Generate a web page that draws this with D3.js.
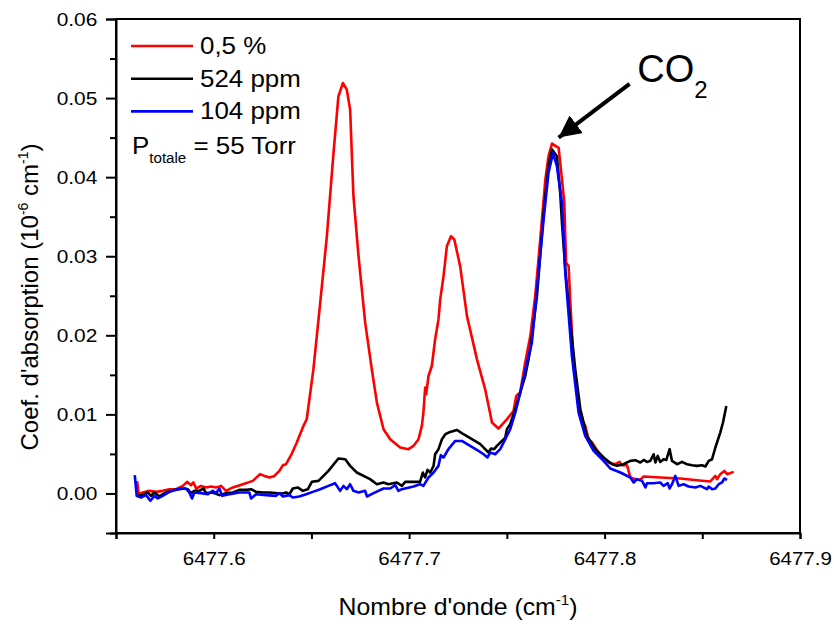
<!DOCTYPE html>
<html>
<head>
<meta charset="utf-8">
<script src="https://cdn.jsdelivr.net/npm/d3@7"></script>
<style>
  body { margin: 0; background: #fff; }
  text { font-family: "Liberation Sans", Arial, sans-serif; fill: #000; }
</style>
</head>
<body>
<div id="main"></div>
<script>
// spectra (wavenumber in cm-1, absorption coefficient)
const wnRed = [6477.5608, 6477.5616, 6477.5637, 6477.5670, 6477.5705, 6477.5739, 6477.5773, 6477.5807, 6477.5842, 6477.5864,
  6477.5884, 6477.5896, 6477.5910, 6477.5935, 6477.5961, 6477.5986, 6477.6012, 6477.6038, 6477.6063, 6477.6098,
  6477.6149, 6477.6200, 6477.6237, 6477.6259, 6477.6285, 6477.6311, 6477.6336, 6477.6354, 6477.6370, 6477.6396,
  6477.6425, 6477.6459, 6477.6476, 6477.6510, 6477.6545, 6477.6579, 6477.6613, 6477.6638, 6477.6661, 6477.6681,
  6477.6698, 6477.6715, 6477.6741, 6477.6775, 6477.6809, 6477.6835, 6477.6869, 6477.6903, 6477.6954, 6477.6997,
  6477.7022, 6477.7048, 6477.7065, 6477.7073, 6477.7082, 6477.7087, 6477.7099, 6477.7116, 6477.7133, 6477.7150,
  6477.7159, 6477.7176, 6477.7193, 6477.7214, 6477.7231, 6477.7261, 6477.7296, 6477.7347, 6477.7389, 6477.7424,
  6477.7457, 6477.7500, 6477.7534, 6477.7548, 6477.7568, 6477.7594, 6477.7620, 6477.7645, 6477.7671, 6477.7697,
  6477.7713, 6477.7731, 6477.7765, 6477.7782, 6477.7794, 6477.7803, 6477.7816, 6477.7825, 6477.7841, 6477.7876,
  6477.7901, 6477.7918, 6477.7936, 6477.7978, 6477.8021, 6477.8055, 6477.8077, 6477.8089, 6477.8115, 6477.8132,
  6477.8157, 6477.8183, 6477.8200, 6477.8285, 6477.8388, 6477.8473, 6477.8541, 6477.8567, 6477.8576, 6477.8592,
  6477.8613, 6477.8627, 6477.8661];
const absRed = [0.00155, -0.0001, 0.00013, 0.00033, 0.0002, 0.00033, 0.00054, 0.00054, 0.00096, 0.00147,
  0.00105, 0.00139, 0.00063, 0.00096, 0.00076, 0.00088, 0.00076, 0.00096, 0.00033, 0.00076,
  0.00117, 0.00159, 0.00244, 0.00222, 0.00202, 0.00222, 0.00285, 0.00357, 0.0037, 0.00484,
  0.00644, 0.00854, 0.00938, 0.0157, 0.02412, 0.03253, 0.04307, 0.05022, 0.05191, 0.05106,
  0.04854, 0.03759, 0.03001, 0.0216, 0.0157, 0.01149, 0.00812, 0.00686, 0.00581, 0.0056,
  0.00601, 0.00686, 0.00854, 0.01023, 0.01339, 0.01254, 0.01485, 0.01612, 0.01949, 0.02201,
  0.02454, 0.02748, 0.03127, 0.03253, 0.03212, 0.02875, 0.02243, 0.01696, 0.01317, 0.00897,
  0.00821, 0.00938, 0.01043, 0.01233, 0.01276, 0.01655, 0.0199, 0.02496, 0.03212, 0.0397,
  0.04264, 0.04424, 0.0437, 0.0397, 0.03675, 0.02918, 0.02875, 0.02412, 0.01655, 0.0098,
  0.00854, 0.00686, 0.00644, 0.00484, 0.00392, 0.0037, 0.00399, 0.00357, 0.00357, 0.00202,
  0.00181, 0.00172, 0.00215, 0.00202, 0.00189, 0.00168, 0.00152, 0.00222, 0.00181, 0.00244,
  0.00285, 0.00244, 0.00273];

const wnBlack = [6477.5606, 6477.5637, 6477.5662, 6477.5679, 6477.5696, 6477.5722, 6477.5756, 6477.5799, 6477.5842, 6477.5867,
  6477.5884, 6477.5901, 6477.5927, 6477.5947, 6477.5961, 6477.5995, 6477.6029, 6477.6063, 6477.6098, 6477.6131,
  6477.6166, 6477.6191, 6477.6217, 6477.6251, 6477.6285, 6477.6319, 6477.6354, 6477.6370, 6477.6387, 6477.6405,
  6477.6430, 6477.6456, 6477.6482, 6477.6502, 6477.6536, 6477.6587, 6477.6638, 6477.6673, 6477.6698, 6477.6732,
  6477.6800, 6477.6835, 6477.6869, 6477.6894, 6477.6937, 6477.6963, 6477.6980, 6477.7056, 6477.7070, 6477.7082,
  6477.7094, 6477.7108, 6477.7125, 6477.7133, 6477.7150, 6477.7168, 6477.7185, 6477.7210, 6477.7244, 6477.7278,
  6477.7321, 6477.7364, 6477.7389, 6477.7406, 6477.7419, 6477.7435, 6477.7449, 6477.7466, 6477.7492, 6477.7500,
  6477.7517, 6477.7543, 6477.7568, 6477.7594, 6477.7611, 6477.7620, 6477.7654, 6477.7688, 6477.7713, 6477.7731,
  6477.7756, 6477.7773, 6477.7782, 6477.7799, 6477.7825, 6477.7850, 6477.7876, 6477.7910, 6477.7953, 6477.7995,
  6477.8038, 6477.8064, 6477.8097, 6477.8132, 6477.8157, 6477.8183, 6477.8200, 6477.8217, 6477.8234, 6477.8251,
  6477.8260, 6477.8272, 6477.8285, 6477.8302, 6477.8316, 6477.8333, 6477.8345, 6477.8371, 6477.8396, 6477.8422,
  6477.8448, 6477.8473, 6477.8499, 6477.8516, 6477.8533, 6477.8550, 6477.8567, 6477.8592, 6477.8606, 6477.8623];
const absBlack = [-0.0003, -0.00021, 0.00013, -0.0003, 0.00013, -0.00038, 0.00013, 0.00045, 0.00063, 0.00054,
  0.00004, 0.00033, 0.00033, 0.00063, 0.00004, 0.00013, -0.00021, 0.00004, 0.00013, 0.00045,
  0.00045, 0.00054, 0.0002, 0.00013, 0.00013, 0.00004, 0, 0.00013, -0.0001, 0.00063,
  0.00076, 0.00033, 0.00054, 0.00147, 0.00159, 0.00285, 0.00442, 0.00433, 0.00349, 0.00265,
  0.00181, 0.00117, 0.00139, 0.00117, 0.00139, 0.00096, 0.00147, 0.00147, 0.00265, 0.00202,
  0.00298, 0.00265, 0.00349, 0.00496, 0.0056, 0.00686, 0.00749, 0.00778, 0.00803, 0.00749,
  0.00686, 0.00623, 0.0056, 0.00518, 0.00568, 0.0056, 0.00601, 0.00644, 0.00707, 0.00812,
  0.00875, 0.01065, 0.01276, 0.01485, 0.01696, 0.01822, 0.02496, 0.03549, 0.04138, 0.04349,
  0.04264, 0.03802, 0.03423, 0.02833, 0.0216, 0.0157, 0.01065, 0.00727, 0.0056, 0.00455,
  0.0037, 0.00349, 0.0037, 0.00412, 0.00421, 0.00392, 0.00424, 0.00399, 0.00412, 0.00496,
  0.00392, 0.00475, 0.00399, 0.00433, 0.00424, 0.0056, 0.00412, 0.0037, 0.00399, 0.0037,
  0.00357, 0.00349, 0.00357, 0.00341, 0.00412, 0.00433, 0.00581, 0.0077, 0.00897, 0.01106];

const wnBlue = [6477.5596, 6477.5606, 6477.5628, 6477.5654, 6477.5676, 6477.5696, 6477.5714, 6477.5739, 6477.5773, 6477.5816,
  6477.5858, 6477.5875, 6477.5889, 6477.5901, 6477.5935, 6477.5970, 6477.5995, 6477.6012, 6477.6029, 6477.6043,
  6477.6080, 6477.6131, 6477.6182, 6477.6191, 6477.6217, 6477.6268, 6477.6319, 6477.6336, 6477.6354, 6477.6387,
  6477.6405, 6477.6438, 6477.6473, 6477.6507, 6477.6545, 6477.6587, 6477.6621, 6477.6647, 6477.6664, 6477.6681,
  6477.6698, 6477.6715, 6477.6741, 6477.6775, 6477.6784, 6477.6826, 6477.6869, 6477.6903, 6477.6929, 6477.6945,
  6477.6963, 6477.7022, 6477.7056, 6477.7073, 6477.7099, 6477.7125, 6477.7150, 6477.7162, 6477.7176, 6477.7201,
  6477.7236, 6477.7270, 6477.7312, 6477.7355, 6477.7381, 6477.7401, 6477.7415, 6477.7440, 6477.7466, 6477.7492,
  6477.7517, 6477.7543, 6477.7568, 6477.7603, 6477.7628, 6477.7654, 6477.7688, 6477.7713, 6477.7736, 6477.7756,
  6477.7782, 6477.7799, 6477.7833, 6477.7867, 6477.7901, 6477.7944, 6477.7987, 6477.8029, 6477.8081, 6477.8132,
  6477.8149, 6477.8166, 6477.8192, 6477.8209, 6477.8217, 6477.8251, 6477.8285, 6477.8302, 6477.8323, 6477.8333,
  6477.8345, 6477.8362, 6477.8379, 6477.8405, 6477.8430, 6477.8465, 6477.8490, 6477.8524, 6477.8533, 6477.8550,
  6477.8567, 6477.8584, 6477.8601, 6477.8613, 6477.8627];
const absBlue = [0.00231, -0.0003, -0.00051, -0.00021, -0.00093, -0.0003, -0.00063, -0.0003, 0.0002, 0.00054,
  0.00063, 0.00013, -0.00063, 0.00013, 0.00004, -0.0001, 0.00033, 0.00004, 0.00063, -0.0003,
  -0.0001, 0.00013, 0.00013, -0.00063, -0.0001, -0.00021, -0.0003, 0.00004, -0.00038, -0.00021,
  -0.00051, -0.00038, -0.0001, 0.0002, 0.00054, 0.00096, 0.0013, 0.00033, 0.00096, 0.00054,
  0.00117, 0.00033, 0.00013, 0.00033, -0.00038, 0.00013, 0.00063, 0.00063, 0.00105, 0.00033,
  0.00054, 0.00088, 0.00117, 0.00096, 0.00202, 0.00265, 0.00349, 0.00484, 0.00455, 0.0056,
  0.00664, 0.00664, 0.00601, 0.00538, 0.00496, 0.00455, 0.00518, 0.00496, 0.0056, 0.00686,
  0.00812, 0.01023, 0.01267, 0.01655, 0.01907, 0.0258, 0.03464, 0.04054, 0.04307, 0.04138,
  0.03675, 0.02791, 0.01738, 0.01023, 0.00727, 0.00538, 0.00433, 0.00316, 0.00265, 0.00202,
  0.00139, 0.00181, 0.00159, 0.00076, 0.0013, 0.0013, 0.00139, 0.00096, 0.0013, 0.00063,
  0.00117, 0.00222, 0.00096, 0.00117, 0.00088, 0.00076, 0.00096, 0.00054, 0.00088, 0.00054,
  0.00063, 0.00117, 0.00139, 0.00189, 0.00172];

const seriesNames = ['0,5 %', '524 ppm', '104 ppm'];
const seriesColors = ['#ff0000', '#000000', '#0000ff'];

const xTicks = [6477.6, 6477.7, 6477.8, 6477.9];
const xMinor = [6477.55, 6477.65, 6477.75, 6477.85];
const yTicks = [0, 0.01, 0.02, 0.03, 0.04, 0.05, 0.06];
const yMinor = [-0.005, 0.005, 0.015, 0.025, 0.035, 0.045, 0.055];

// annotation: arrow tail / tip and label anchor, in data units
const arrowFrom = [6477.8128, 0.0518];
const arrowTo = [6477.7765, 0.0450];
const co2At = [6477.8167, 0.0520];

// layout
const svgWidth = 834, svgHeight = 625;
const margin = { left: 116, top: 19, right: 34, bottom: 92 };
const plotRight = svgWidth - margin.right;
const plotBottom = svgHeight - margin.bottom;

const svg = d3.select('#main')
  .append('svg')
  .attr('width', svgWidth)
  .attr('height', svgHeight);

const xScale = d3.scaleLinear().domain([6477.55, 6477.9]).range([margin.left, plotRight]);
const yScale = d3.scaleLinear().domain([-0.005, 0.06]).range([plotBottom, margin.top]);

// frame
svg.append('rect')
  .attr('x', margin.left).attr('y', margin.top)
  .attr('width', plotRight - margin.left).attr('height', plotBottom - margin.top)
  .attr('fill', 'none').attr('stroke', '#000').attr('stroke-width', 2);

// axes
const xAxis = svg.append('g')
  .attr('transform', `translate(0, ${plotBottom})`)
  .call(d3.axisBottom(xScale).tickValues(xTicks).tickSize(6).tickPadding(13).tickFormat(d3.format('.1f')));
svg.append('g')
  .attr('transform', `translate(0, ${plotBottom})`)
  .call(d3.axisBottom(xScale).tickValues(xMinor).tickSize(6).tickFormat(''))
  .call(g => g.select('.domain').remove());

const yAxis = svg.append('g')
  .attr('transform', `translate(${margin.left}, 0)`)
  .call(d3.axisLeft(yScale).tickValues(yTicks).tickSize(10).tickPadding(7).tickFormat(d3.format('.2f')));
svg.append('g')
  .attr('transform', `translate(${margin.left}, 0)`)
  .call(d3.axisLeft(yScale).tickValues(yMinor).tickSize(6).tickFormat(''))
  .call(g => g.select('.domain').remove());

svg.selectAll('.domain').attr('stroke-width', 2);
svg.selectAll('.tick line').attr('stroke-width', 2);
svg.selectAll('.tick text')
  .attr('font-family', '"Liberation Sans", Arial, sans-serif')
  .attr('font-size', 19)
  .attr('fill', '#000');
xAxis.selectAll('.tick text').attr('transform', 'scale(1.08,1)');
yAxis.selectAll('.tick text').attr('transform', 'scale(1.1,1)');

// curves
const series = [
  d3.zip(wnRed, absRed),
  d3.zip(wnBlack, absBlack),
  d3.zip(wnBlue, absBlue)
];
const line = d3.line()
  .x(d => xScale(d[0]))
  .y(d => yScale(d[1]));

svg.append('g')
  .selectAll('path')
  .data(series)
  .enter()
  .append('path')
  .attr('fill', 'none')
  .attr('stroke', (d, i) => seriesColors[i])
  .attr('stroke-width', 2.6)
  .attr('stroke-linejoin', 'round')
  .attr('d', line);

// legend
const legend = svg.append('g');
seriesNames.forEach((name, i) => {
  const ly = 46 + i * 32.7;
  legend.append('line')
    .attr('x1', 131).attr('x2', 193)
    .attr('y1', ly).attr('y2', ly)
    .attr('stroke', seriesColors[i]).attr('stroke-width', 2.6);
  legend.append('text')
    .attr('transform', `translate(200, ${ly + 8}) scale(1.08,1)`)
    .attr('font-size', 24)
    .text(name);
});
const ptot = legend.append('text')
  .attr('transform', 'translate(132, 154) scale(1.08,1)')
  .attr('font-size', 24);
ptot.append('tspan').text('P');
ptot.append('tspan').attr('font-size', 14).attr('dy', 9).text('totale');
ptot.append('tspan').attr('dy', -9).text(' = 55 Torr');

// CO2 annotation
svg.append('defs').append('marker')
  .attr('id', 'arrowhead')
  .attr('markerUnits', 'userSpaceOnUse')
  .attr('markerWidth', 24).attr('markerHeight', 24)
  .attr('refX', 22).attr('refY', 11)
  .attr('orient', 'auto')
  .append('path')
  .attr('d', 'M0,0 L22,11 L0,22 Z')
  .attr('fill', '#000');

svg.append('line')
  .attr('x1', xScale(arrowFrom[0])).attr('y1', yScale(arrowFrom[1]))
  .attr('x2', xScale(arrowTo[0])).attr('y2', yScale(arrowTo[1]))
  .attr('stroke', '#000').attr('stroke-width', 4)
  .attr('marker-end', 'url(#arrowhead)');

const co2 = svg.append('text')
  .attr('x', xScale(co2At[0])).attr('y', yScale(co2At[1]))
  .attr('font-size', 38);
co2.append('tspan').text('CO');
co2.append('tspan').attr('font-size', 24).attr('dy', 16).text('2');

// axis titles
const xTitle = svg.append('text')
  .attr('transform', `translate(${(margin.left + plotRight) / 2}, 615) scale(1.08,1)`)
  .attr('text-anchor', 'middle')
  .attr('font-size', 23);
xTitle.append('tspan').text("Nombre d'onde (cm");
xTitle.append('tspan').attr('font-size', 14).attr('dy', -10).text('-1');
xTitle.append('tspan').attr('dy', 10).text(')');

const yTitle = svg.append('text')
  .attr('transform', 'translate(38, 297) rotate(-90)')
  .attr('text-anchor', 'middle')
  .attr('font-size', 24);
yTitle.append('tspan').text("Coef. d'absorption (10");
yTitle.append('tspan').attr('font-size', 14).attr('dy', -10).text('-6');
yTitle.append('tspan').attr('dy', 10).text(' cm');
yTitle.append('tspan').attr('font-size', 14).attr('dy', -10).text('-1');
yTitle.append('tspan').attr('dy', 10).text(')');
</script>
</body>
</html>
